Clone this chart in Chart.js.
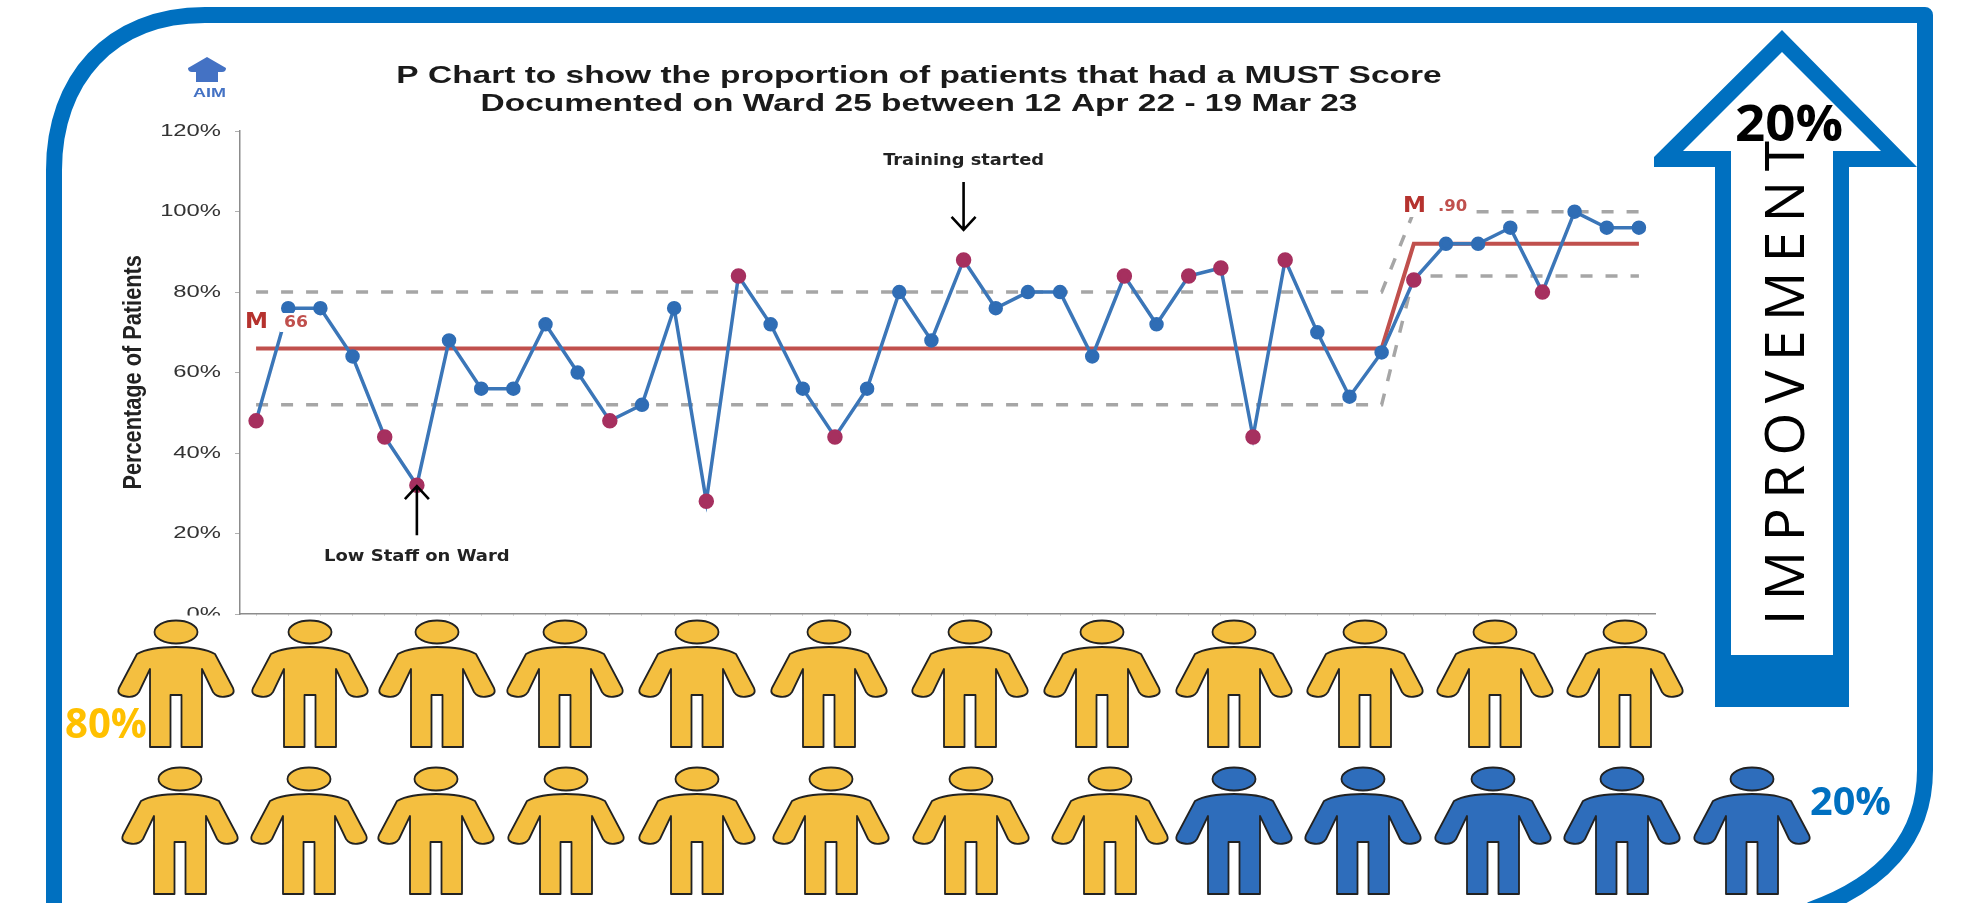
<!DOCTYPE html>
<html><head><meta charset="utf-8">
<style>
html,body{margin:0;padding:0;background:#fff;width:1972px;height:903px;overflow:hidden}
#wrap{position:relative;width:1972px;height:903px}
#c{position:absolute;left:0;top:0}
#art{position:absolute;left:0;top:0;pointer-events:none}
</style>
<script src="https://cdn.jsdelivr.net/npm/chart.js@4"></script>
</head><body>
<div id="wrap"><canvas id="c" width="1972" height="903"></canvas>
<svg id="art" width="1972" height="903" xmlns="http://www.w3.org/2000/svg"></svg></div>
<script>
const titleLines=["P Chart to show the proportion of patients that had a MUST Score","Documented on Ward 25 between 12 Apr 22 - 19 Mar 23"];
const yAxisTitle="Percentage of Patients";
const percent=[48,76,76,64,44,32,68,56,56,72,60,48,52,76,28,84,72,56,44,56,80,68,88,76,80,80,64,84,72,84,86,44,88,70,54,65,83,92,92,96,80,100,96,96];
const median=[66,66,66,66,66,66,66,66,66,66,66,66,66,66,66,66,66,66,66,66,66,66,66,66,66,66,66,66,66,66,66,66,66,66,66,66,92,92,92,92,92,92,92,92];
const upperLimit=[80,80,80,80,80,80,80,80,80,80,80,80,80,80,80,80,80,80,80,80,80,80,80,80,80,80,80,80,80,80,80,80,80,80,80,80,100,100,100,100,100,100,100,100];
const lowerLimit=[52,52,52,52,52,52,52,52,52,52,52,52,52,52,52,52,52,52,52,52,52,52,52,52,52,52,52,52,52,52,52,52,52,52,52,52,84,84,84,84,84,84,84,84];
const signalWeeks=[0,4,5,11,14,15,18,22,27,29,30,31,32,36,40];
const categories=percent.map((_,i)=>"Week "+(i+1));
const yellowPeople=20, bluePeople=5;

const BLUE="#0070C0", LINE="#3B76B8", DOT="#2F6DB5", SIGNAL="#A6305F", RED="#C0504D", GREY="#A6A6A6", DARK="#B5322E";

function arrow(ctx,x,y0,y1){
  const d=y1>y0?1:-1;
  ctx.save();ctx.strokeStyle="#000";ctx.lineWidth=2.6;ctx.beginPath();
  ctx.moveTo(x,y0);ctx.lineTo(x,y1);
  ctx.moveTo(x-12,y1-d*13);ctx.lineTo(x,y1);ctx.lineTo(x+12,y1-d*13);ctx.stroke();ctx.restore();
}
function label(ctx,t,x,y,font,color,align,sx){
  ctx.save();ctx.font=font;ctx.fillStyle=color;ctx.textAlign=align||"left";ctx.textBaseline="middle";
  ctx.translate(x,y);ctx.scale(sx||1,1);ctx.fillText(t,0,0);ctx.restore();
}
/* The source picture is a stretched screenshot: its text is wider (or narrower) than any font. */
function stretch(obj,method,ctx,sx,sy,ax,ay){
  const orig=obj[method];
  obj[method]=function(...a){
    ctx.save();ctx.translate(ax,ay);ctx.scale(sx,sy);ctx.translate(-ax,-ay);
    orig.apply(this,a);ctx.restore();
  };
}
const notes={
  id:"notes",
  afterLayout(c){
    if(c.$stretched)return;c.$stretched=true;
    const t=c.titleBlock;t.left+=41.5;t.right+=41.5;
    stretch(t,"draw",c.ctx,1.395,1,919,0);
    stretch(c.scales.y,"drawLabels",c.ctx,1.4,1,221,0);
    stretch(c.scales.y,"drawTitle",c.ctx,1,0.87,0,371);
  },
  afterDatasetsDraw(c){
    const ctx=c.ctx,x=c.scales.x,y=c.scales.y;
    const px5=x.getPixelForValue(5),py5=y.getPixelForValue(32);
    const px22=x.getPixelForValue(22),py22=y.getPixelForValue(88);
    arrow(ctx,px5,py5+50,py5+1);
    arrow(ctx,px22,py22-78,py22-30);
    label(ctx,"Low Staff on Ward",px5,557,"bold 15.5px 'DejaVu Sans'","#222","center",1.16);
    label(ctx,"Training started",px22,161,"bold 15.5px 'DejaVu Sans'","#222","center",1.15);
    ctx.fillStyle="#fff";
    ctx.fillRect(280,313,32,19);
    ctx.fillRect(1398,197,74,20);
    label(ctx,"M",245,323,"bold 21px 'DejaVu Sans'",DARK,"left",1.1);
    label(ctx,"66",284,323,"bold 15px 'DejaVu Sans'",RED,"left",1.15);
    label(ctx,"M",1403,207,"bold 21px 'DejaVu Sans'",DARK,"left",1.1);
    label(ctx,".90",1438,207,"bold 15px 'DejaVu Sans'",RED,"left",1.1);
  }
};

new Chart(document.getElementById("c"),{
  type:"line",
  data:{labels:categories,datasets:[
    {label:"% with MUST score",data:percent,borderColor:LINE,borderWidth:3.5,tension:0,order:0,
     pointRadius:percent.map((_,i)=>signalWeeks.includes(i)?6:5.5),
     pointBackgroundColor:percent.map((_,i)=>signalWeeks.includes(i)?SIGNAL:DOT),
     pointBorderColor:percent.map((_,i)=>signalWeeks.includes(i)?SIGNAL:DOT)},
    {label:"Median",data:median,borderColor:RED,borderWidth:4,pointRadius:0,tension:0,order:1},
    {label:"Upper limit",data:upperLimit,borderColor:GREY,borderWidth:3.5,borderDash:[12,13],pointRadius:0,tension:0,order:2},
    {label:"Lower limit",data:lowerLimit,borderColor:GREY,borderWidth:3.5,borderDash:[12,13],pointRadius:0,tension:0,order:2}
  ]},
  plugins:[notes],
  options:{
    responsive:false,animation:false,
    layout:{padding:{left:100,right:317,top:0,bottom:0}},
    plugins:{
      legend:{display:false},tooltip:{enabled:false},
      title:{display:true,text:titleLines,color:"#1a1a1a",align:"center",
        font:{family:"'Liberation Sans'",size:24,weight:"bold",lineHeight:1.17},padding:{top:62,bottom:13}}
    },
    scales:{
      x:{offset:true,afterFit(s){s.height=289;},
        border:{color:"#8c8c8c",width:1.5},
        grid:{drawOnChartArea:false,drawTicks:true,tickLength:3,color:"#b0b0b0"},
        ticks:{display:false,autoSkip:false}},
      y:{min:0,max:120,afterFit(s){s.width=140;},
        border:{color:"#8c8c8c",width:1.5},
        grid:{drawOnChartArea:false,drawTicks:true,tickLength:5,color:"#b0b0b0"},
        ticks:{stepSize:20,padding:14,color:"#333",font:{family:"'Liberation Sans'",size:17},callback:v=>v+"%"},
        title:{display:true,text:yAxisTitle,color:"#222",padding:{top:20,bottom:0},
          font:{family:"'Liberation Sans'",size:25,weight:"bold",lineHeight:1.1}}}
    }
  }
});

/* Infographic decoration around the chart */
const svg=document.getElementById("art"),NS="http://www.w3.org/2000/svg";
function el(n,a,t){const e=document.createElementNS(NS,n);for(const k in a)e.setAttribute(k,a[k]);if(t)e.textContent=t;svg.appendChild(e);return e;}
el("rect",{x:62,y:615.5,width:1592,height:288,fill:"#fff"});
el("path",{d:"M54 903 V170 C54 80 110 15 205 15 H1925 V770 C1925 840 1880 885 1810 910",fill:"none",stroke:BLUE,"stroke-width":16,"stroke-linejoin":"round"});
el("path",{d:"M1782 30 L1917 167 H1849 V707 H1715 V167 H1654 V157 Z",fill:BLUE});
el("path",{d:"M1782 52 L1881 151 H1833 V655 H1731 V151 H1683 Z",fill:"#fff"});
el("text",{transform:"translate(1804,625) rotate(-90)",fill:"#000","font-family":"Open Sans","font-size":55,textLength:484,lengthAdjust:"spacing"},"IMPROVEMENT");
el("text",{x:1735,y:141,fill:"#000","font-family":"Open Sans","font-weight":700,"font-size":51,textLength:108,lengthAdjust:"spacingAndGlyphs"},"20%");
el("text",{x:65,y:738,fill:"#FFC000","font-family":"Open Sans","font-weight":700,"font-size":42,textLength:82,lengthAdjust:"spacingAndGlyphs"},"80%");
el("text",{x:1810,y:815,fill:BLUE,"font-family":"Open Sans","font-weight":700,"font-size":40,textLength:81,lengthAdjust:"spacingAndGlyphs"},"20%");
/* AIM badge */
el("path",{d:"M207 57 L226 68 Q226 72 222 72 H218 V82 H196 V72 H192 Q188 72 188 68 Z",fill:"#4472C4"});
el("text",{x:193,y:97,fill:"#4472C4","font-family":"Liberation Sans","font-weight":700,"font-size":13,textLength:33,lengthAdjust:"spacingAndGlyphs"},"AIM");
/* People */
const row1X=[176,310,437,565,697,829,970,1102,1234,1365,1495,1625];
const row2X=[180,309,436,566,697,831,971,1110,1234,1363,1493,1622,1752];
const BODY="M0 15 C-15 15 -30 17 -39 22 L-57 56 Q-60 63 -50 64.5 Q-41 66 -37 60 L-26 37 V115 H-5.5 V63 H5.5 V115 H26 V37 L37 60 Q41 66 50 64.5 Q60 63 57 56 L39 22 C30 17 15 15 0 15 Z";
function person(cx,cy,fill){
  const a={fill,stroke:"#222","stroke-width":1.8,"stroke-linejoin":"round"};
  el("ellipse",{cx,cy,rx:21.5,ry:11.5,...a});
  el("path",{d:BODY,transform:`translate(${cx},${cy})`,...a});
}
let n=0;
[[row1X,632],[row2X,779]].forEach(([xs,cy])=>xs.forEach(x=>{person(x,cy,n<yellowPeople?"#F4BF40":"#2E6DBB");n++;}));
</script>
</body></html>
